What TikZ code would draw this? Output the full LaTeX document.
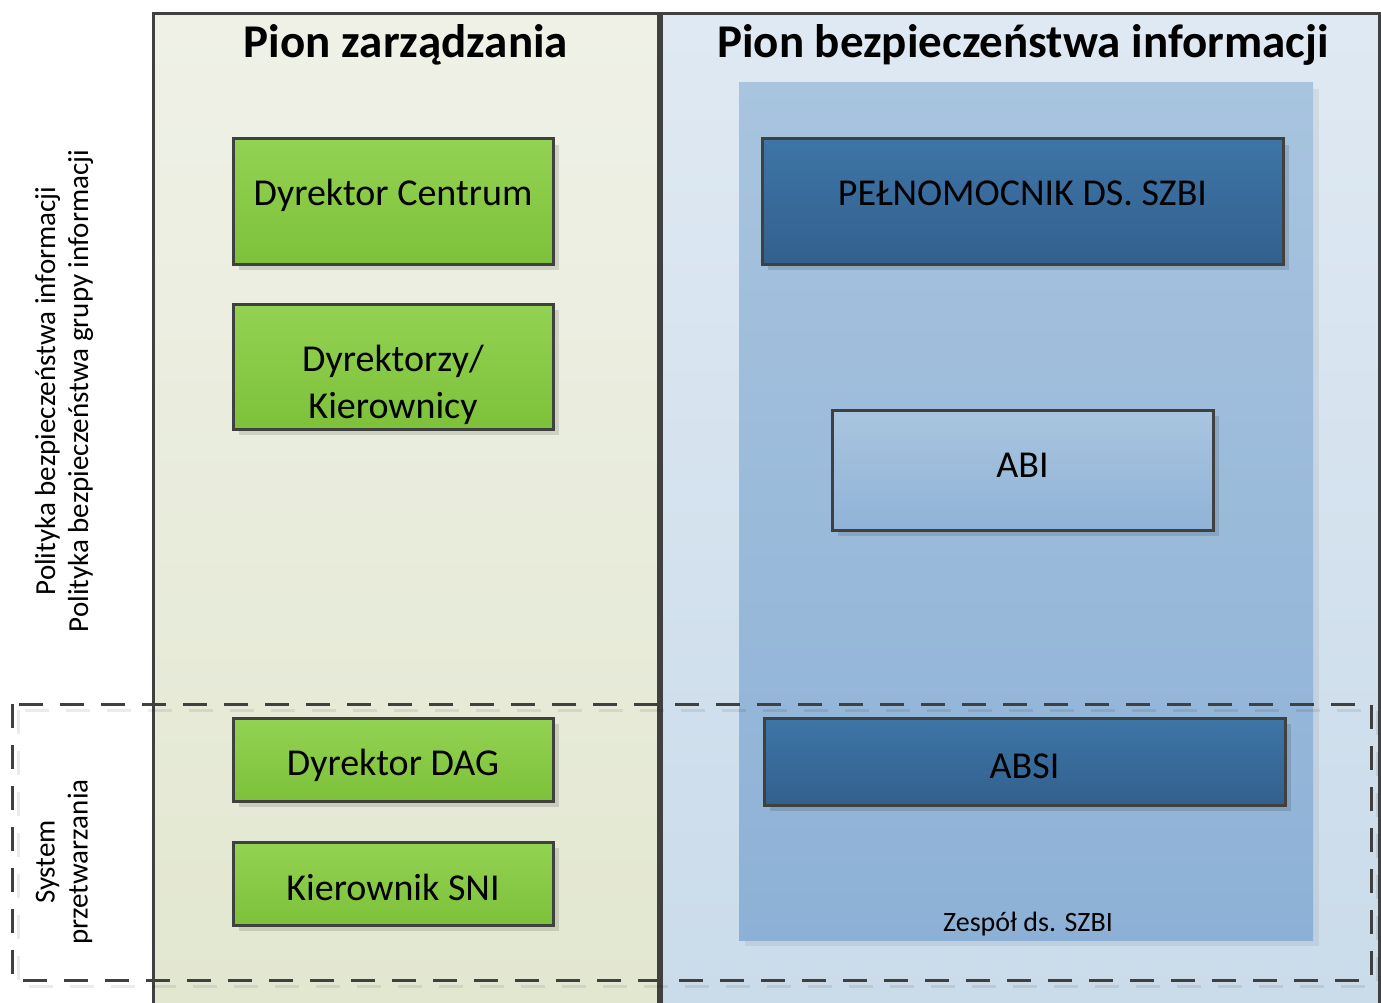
\documentclass[tikz,border=0pt]{standalone}
\usepackage{fontspec}
\setmainfont{Carlito}
\usetikzlibrary{shadows}
\definecolor{boxline}{HTML}{404040}
\definecolor{lcoltop}{HTML}{EFF1E7}
\definecolor{lcolbot}{HTML}{E2E7D0}
\definecolor{rcoltop}{HTML}{DFE9F3}
\definecolor{rcolbot}{HTML}{CADBEA}
\definecolor{teamtop}{HTML}{A8C4DF}
\definecolor{teambot}{HTML}{8DB1D6}
\definecolor{greentop}{HTML}{93D252}
\definecolor{greenbot}{HTML}{7DC13A}
\definecolor{bluetop}{HTML}{3D75A7}
\definecolor{bluebot}{HTML}{33608D}
\definecolor{abitop}{HTML}{A9C5DF}
\definecolor{abibot}{HTML}{8FB3D7}
\begin{document}
\begin{tikzpicture}[x=1pt,y=-1pt,
  shad/.style={drop shadow={shadow xshift=6pt,shadow yshift=-6pt,fill=black,opacity=0.12}},
  boxfont/.style={font=\fontsize{38}{47}\selectfont},
  boxtext/.style={boxfont,align=center,inner sep=0pt},
  gbox/.style={draw=boxline,line width=3pt,top color=greentop,bottom color=greenbot,shad,
    minimum width=320,inner sep=0pt},
  bbox/.style={draw=boxline,line width=3pt,top color=bluetop,bottom color=bluebot,shad,
    minimum width=521,inner sep=0pt},
  abox/.style={draw=boxline,line width=3pt,top color=abitop,bottom color=abibot,shad,
    minimum width=381,inner sep=0pt},
  coltitle/.style={font=\fontsize{47}{52}\selectfont\bfseries},
  sidetext/.style={rotate=90,align=center,font=\fontsize{29}{33}\selectfont},
  dashbox/.style={draw=boxline,line width=3pt,dash pattern=on 24pt off 17pt}
]
\useasboundingbox (0,0) rectangle (1381,1003);
\clip (0,0) rectangle (1381,1003);
% columns
\path[top color=lcoltop,bottom color=lcolbot] (153,14) rectangle (658,1010);
\path[top color=rcoltop,bottom color=rcolbot] (661,14) rectangle (1379,1010);
\draw[boxline,line width=3pt] (153,1010) -- (153,14) -- (658,14) -- (658,1010);
\draw[boxline,line width=3pt] (661,1010) -- (661,14) -- (1379,14) -- (1379,1010);
\node[coltitle] (t1) at (406,45) {Pion zarządzania};
\node[coltitle] (t2) at (1023,45) {Pion bezpieczeństwa informacji};
% team area
\fill[black,opacity=0.06] (745,89) rectangle (1319,946);
\path[top color=teamtop,bottom color=teambot] (739,83) rectangle (1313,940);
\node[font=\fontsize{28}{32}\selectfont] (team) at (1028,924) {Zespół ds. SZBI};
% boxes
\node[gbox,minimum height=125,label={[boxtext,yshift=6pt]center:Dyrektor Centrum}] (dc) at (393,201.5) {};
\node[gbox,minimum height=125,label={[boxtext,yshift=-18pt]center:Dyrektorzy/\\Kierownicy}] (dk) at (393,366.5) {};
\node[gbox,minimum height=83,label={[boxtext,yshift=-6pt]center:Dyrektor DAG}] (dag) at (393,759.5) {};
\node[gbox,minimum height=83,label={[boxtext,yshift=-4pt]center:Kierownik SNI}] (sni) at (393,883.5) {};
\node[bbox,minimum height=125,label={[boxtext,yshift=8pt]center:PEŁNOMOCNIK DS. SZBI}] (pel) at (1022.5,201.5) {};
\node[abox,minimum height=120,label={[boxtext,yshift=5pt]center:ABI}] (abi) at (1022.5,470) {};
\node[bbox,minimum height=87,label={[boxtext,yshift=-5pt]center:ABSI}] (absi) at (1024.5,761.5) {};
% dashed region
\draw[dashbox,draw=black,opacity=0.08] (18,710) rectangle (1377,986);
\draw[dashbox] (12,704) rectangle (1371,980);
% side texts
\node[sidetext] (pol) at (64,391) {Polityka bezpieczeństwa informacji\\Polityka bezpieczeństwa grupy informacji};
\node[sidetext] (sys) at (64,862) {System\\przetwarzania};
\end{tikzpicture}
\end{document}
